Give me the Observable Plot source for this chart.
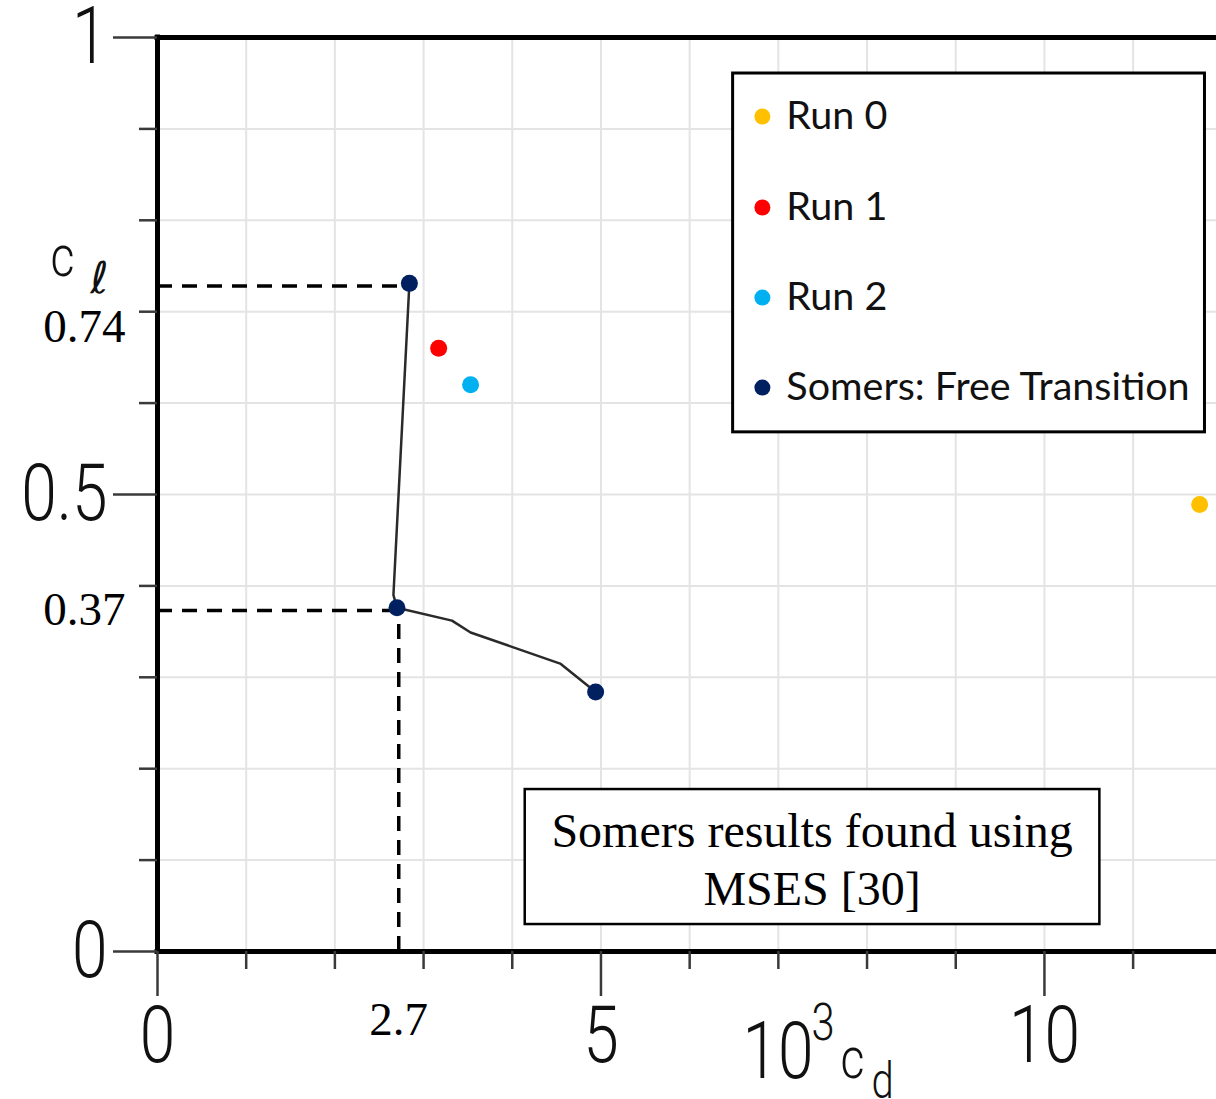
<!DOCTYPE html>
<html><head><meta charset="utf-8">
<script src="https://cdn.jsdelivr.net/npm/d3@7"></script>
<script src="https://cdn.jsdelivr.net/npm/@observablehq/plot@0.6"></script>
<style>body{margin:0;background:#fff} svg{display:block}</style>
</head><body><div id="chart"></div>
<script>
// ---------- data ----------
const series = ["Run 0", "Run 1", "Run 2", "Somers: Free Transition"];
const seriesColors = ["#FFC000", "#FF0000", "#00B0F0", "#002060"];

const runNames = ["Run 0", "Run 1", "Run 2"];
const runCd = [11.75, 3.17, 3.53];     // 10^3 c_d
const runCl = [0.489, 0.660, 0.620];   // c_l

const somersCd = [2.84, 2.70, 4.94];
const somersCl = [0.731, 0.376, 0.284];

const somersLineCd = [2.84, 2.66, 2.70, 3.32, 3.53, 4.54, 4.94];
const somersLineCl = [0.731, 0.390, 0.376, 0.362, 0.349, 0.315, 0.284];

// reference (dashed) lines
const refHCl = [0.728, 0.373];
const refHCdEnd = [2.84, 2.72];
const refVCd = [2.72];
const refVClEnd = [0.373];

// ticks
const xMajorTicks = [0, 5, 10];
const xMajorLabels = ["0", "5", "10"];
const xMinorTicks = [1, 2, 3, 4, 6, 7, 8, 9, 11];
const yMajorTicks = [0, 0.5, 1];
const yMajorLabels = ["0", "0.5", "1"];
const yMinorTicks = [0.1, 0.2, 0.3, 0.4, 0.6, 0.7, 0.8, 0.9];
const xGridTicks = [1, 2, 3, 4, 5, 6, 7, 8, 9, 10, 11];
const yGridTicks = [0.1, 0.2, 0.3, 0.4, 0.5, 0.6, 0.7, 0.8, 0.9];

// annotation texts
const annoYLabels = ["0.74", "0.37"];
const annoXLabels = ["2.7"];
const noteText = "Somers results found using\nMSES [30]";

// legend / note box placement (data coordinates)
const legendBox = [{x1: 6.49, x2: 11.81, y1: 0.568, y2: 0.9606}];
const legendEntryCl = [0.9136, 0.814, 0.7155, 0.617];
const legendDotCd = 6.82, legendTextCd = 7.09;
const noteBox = [{x1: 4.146, x2: 10.625, y1: 0.0295, y2: 0.1772}];
const noteAnchor = [{x: 7.38, y: 0.159}];

// ---------- build ----------
const NARROW = "Roboto,'DejaVu Sans Condensed',sans-serif";
const SERIF = "'Liberation Serif','Times New Roman',serif";
const LEGF = "Lato,'Open Sans',sans-serif";
const TICK = "#3a3a3a";
const NW = 300;
const SQ = 0.8;

const runs = runNames.map((n, i) => ({name: n, cd: runCd[i], cl: runCl[i], color: seriesColors[series.indexOf(n)]}));
const somers = somersCd.map((d, i) => ({cd: d, cl: somersCl[i]}));
const somersLine = somersLineCd.map((d, i) => ({cd: d, cl: somersLineCl[i]}));
const refH = refHCl.map((c, i) => ({cl: c, x1: 0, x2: refHCdEnd[i]}));
const refV = refVCd.map((d, i) => ({cd: d, y1: 0, y2: refVClEnd[i]}));
const legend = series.map((s, i) => ({name: s, color: seriesColors[i], cl: legendEntryCl[i]}));

const label = (t, o) => Plot.text([t], {text: d => d, lineAnchor: "middle", fill: "#111", ...o});

const chart = Plot.plot({
  width: 1216, height: 1099,
  marginLeft: 157, marginRight: 0, marginTop: 37, marginBottom: 148,
  x: {domain: [0, 11.94]},
  y: {domain: [0, 1]},
  style: {background: "#fff", overflow: "visible"},
  marks: [
    Plot.gridX(xGridTicks, {stroke: "#e4e4e4", strokeOpacity: 1, strokeWidth: 2}),
    Plot.gridY(yGridTicks, {stroke: "#e4e4e4", strokeOpacity: 1, strokeWidth: 2}),

    // dashed reference lines
    Plot.ruleY(refH, {y: "cl", x1: "x1", x2: "x2", stroke: "#000", strokeWidth: 3.5, strokeDasharray: "15,10"}),
    Plot.ruleX(refV, {x: "cd", y1: "y1", y2: "y2", stroke: "#000", strokeWidth: 3.5, strokeDasharray: "15,9"}),

    // Somers polar line
    Plot.line(somersLine, {x: "cd", y: "cl", stroke: "#2a2a2a", strokeWidth: 2.5, curve: "linear"}),
    Plot.dot(somers, {x: "cd", y: "cl", r: 8.5, fill: seriesColors[3], stroke: null}),
    Plot.dot(runs, {x: "cd", y: "cl", r: 8.5, fill: "color", stroke: null}),

    // legend
    Plot.rect(legendBox, {x1: "x1", x2: "x2", y1: "y1", y2: "y2", fill: "#fff", stroke: "#000", strokeWidth: 3}),
    Plot.dot(legend, {x: () => legendDotCd, y: "cl", r: 8, fill: "color", stroke: null}),
    Plot.text(legend, {x: () => legendTextCd, y: "cl", text: "name", textAnchor: "start", lineAnchor: "middle",
      fontFamily: LEGF, fontSize: 39.5, fill: "#111"}),

    // note box
    Plot.rect(noteBox, {x1: "x1", x2: "x2", y1: "y1", y2: "y2", fill: "#fff", stroke: "#000", strokeWidth: 2.5}),
    Plot.text(noteAnchor, {x: "x", y: "y", text: () => noteText, textAnchor: "middle", lineAnchor: "top",
      lineHeight: 1.21, fontFamily: SERIF, fontSize: 48, fill: "#000"}),

    // frame
    Plot.ruleY([0, 1], {stroke: "#000", strokeWidth: 5, strokeLinecap: "square"}),
    Plot.ruleX([0], {stroke: "#000", strokeWidth: 5, strokeLinecap: "square"}),

    // axes
    Plot.axisX(xMinorTicks, {anchor: "bottom", tickSize: 18, tickFormat: () => "", stroke: TICK, strokeWidth: 2.5, label: null}),
    Plot.axisX(xMajorTicks, {anchor: "bottom", tickSize: 45, tickPadding: 9, tickFormat: d => xMajorLabels[xMajorTicks.indexOf(d)],
      fontSize: 80, fontFamily: NARROW, fontWeight: NW, fill: "#111", stroke: TICK, strokeWidth: 2.5, label: null}),
    Plot.axisY(yMinorTicks, {anchor: "left", tickSize: 18, tickFormat: () => "", stroke: TICK, strokeWidth: 2.5, label: null}),
    Plot.axisY(yMajorTicks, {anchor: "left", tickSize: 44, tickPadding: 6, tickFormat: d => yMajorLabels[yMajorTicks.indexOf(d)],
      fontSize: 80, fontFamily: NARROW, fontWeight: NW, fill: "#111", stroke: TICK, strokeWidth: 2.5, label: null}),

    // axis titles: c_ℓ
    label("c", {frameAnchor: "top-left", dx: -107, dy: 220, textAnchor: "start", fontFamily: NARROW, fontWeight: NW, fontSize: 58}),
    label("ℓ", {frameAnchor: "top-left", dx: -67, dy: 241, textAnchor: "start", fontFamily: "'DejaVu Sans',sans-serif", fontSize: 44}),
    // axis titles: 10³c_d
    label("10", {frameAnchor: "bottom-left", dx: 656, dy: 101, textAnchor: "end", fontFamily: NARROW, fontWeight: NW, fontSize: 80}),
    label("3", {frameAnchor: "bottom-left", dx: 654, dy: 72, textAnchor: "start", fontFamily: NARROW, fontWeight: NW, fontSize: 52}),
    label("c", {frameAnchor: "bottom-left", dx: 683, dy: 108, textAnchor: "start", fontFamily: NARROW, fontWeight: NW, fontSize: 58}),
    label("d", {frameAnchor: "bottom-left", dx: 714, dy: 130, textAnchor: "start", fontFamily: NARROW, fontWeight: NW, fontSize: 50}),

    // annotation value labels
    label(annoYLabels[0], {frameAnchor: "top-left", dx: -32, dy: 289, textAnchor: "end", fontFamily: SERIF, fontSize: 47, fill: "#000"}),
    label(annoYLabels[1], {frameAnchor: "top-left", dx: -32, dy: 572, textAnchor: "end", fontFamily: SERIF, fontSize: 47, fill: "#000"}),
    label(annoXLabels[0], {frameAnchor: "bottom-left", dx: 241, dy: 68, textAnchor: "middle", fontFamily: SERIF, fontSize: 47, fill: "#000"})
  ]
});

// condense the plotter-style sans labels horizontally (about each text's own anchor)
chart.querySelectorAll('g[font-family*="Roboto"] text').forEach(t => {
  const xa = t.getAttribute("x");
  if (xa !== null && isFinite(+xa)) t.setAttribute("x", +xa / SQ);
  const tr = t.getAttribute("transform") || "";
  t.setAttribute("transform", `${tr} scale(${SQ},1)`);
});
document.getElementById("chart").appendChild(chart);
</script>
</body></html>
